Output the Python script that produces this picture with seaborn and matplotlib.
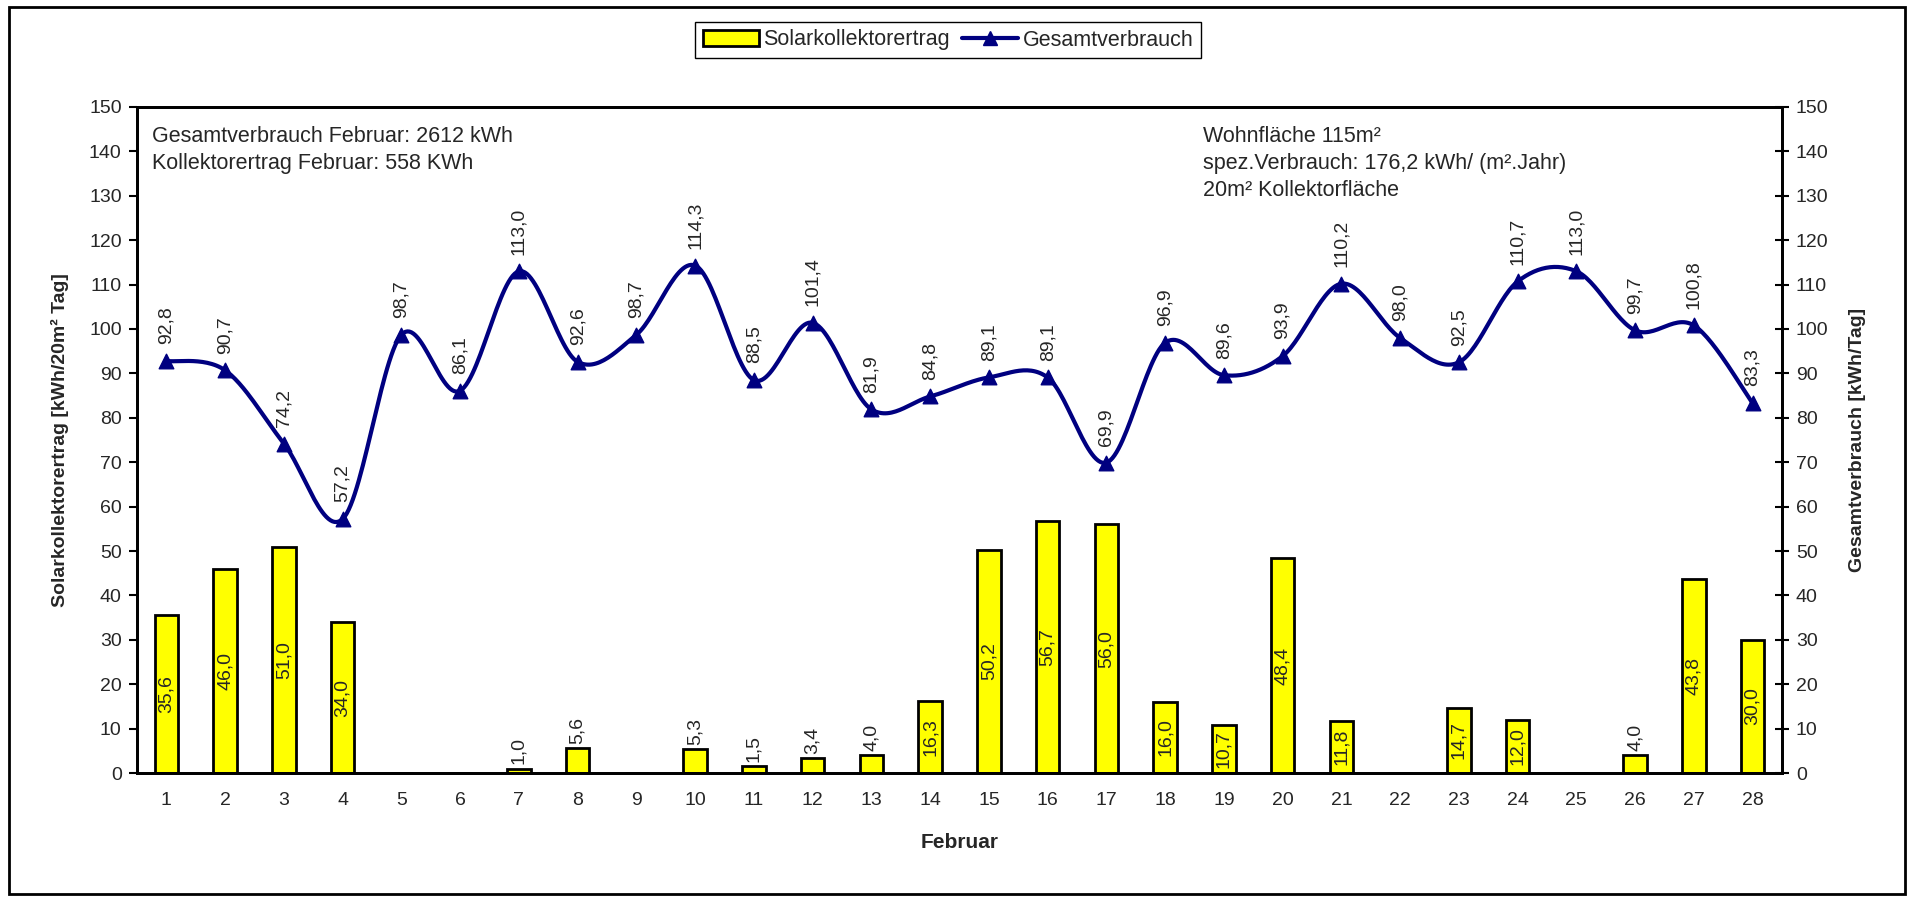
import numpy as np
import pandas as pd
import matplotlib
matplotlib.use("Agg")
import matplotlib.pyplot as plt
import seaborn as sns
from matplotlib.lines import Line2D
from matplotlib.patches import Patch, Rectangle

# ---------------- data ----------------
days = [str(d) for d in range(1, 29)]
solar = [35.6, 46.0, 51.0, 34.0, 0.0, 0.0, 1.0, 5.6, 0.0, 5.3, 1.5, 3.4, 4.0, 16.3,
         50.2, 56.7, 56.0, 16.0, 10.7, 48.4, 11.8, 0.0, 14.7, 12.0, 0.0, 4.0, 43.8, 30.0]
verbrauch = [92.8, 90.7, 74.2, 57.2, 98.7, 86.1, 113.0, 92.6, 98.7, 114.3, 88.5, 101.4,
             81.9, 84.8, 89.1, 89.1, 69.9, 96.9, 89.6, 93.9, 110.2, 98.0, 92.5, 110.7,
             113.0, 99.7, 100.8, 83.3]
yticks = list(range(0, 151, 10))
series_names = ["Solarkollektorertrag", "Gesamtverbrauch"]
note_left = ["Gesamtverbrauch Februar: 2612 kWh", "Kollektorertrag Februar: 558 KWh"]
note_right = ["Wohnfläche 115m²", "spez.Verbrauch: 176,2 kWh/ (m².Jahr)", "20m² Kollektorfläche"]
xlabel = "Februar"
ylabel_left = "Solarkollektorertrag [kWh/20m² Tag]"
ylabel_right = "Gesamtverbrauch [kWh/Tag]"

YELLOW = "#FFFF00"
NAVY = "#000080"

sns.set_style("white")
plt.rcParams["font.family"] = ["Liberation Sans", "DejaVu Sans"]

W, H = 1912, 899
fig = plt.figure(figsize=(W / 100, H / 100), dpi=100)
L, R, T, B = 137, 1782, 107, 773
ax = fig.add_axes([L / W, 1 - B / H, (R - L) / W, (B - T) / H])

df = pd.DataFrame({"Tag": days, "Solar": solar})
sns.barplot(data=df, x="Tag", y="Solar", color=YELLOW, saturation=1, edgecolor="black",
            linewidth=2, width=0.4, ax=ax, zorder=2)
ax.set_xlim(-0.5, len(days) - 0.5)
ax.set_ylim(0, 150)
ax.set_yticks(yticks)
ax.set_xlabel("")
ax.set_ylabel("")
ax.set_xticks(range(len(days)))
ax.set_xticklabels(days)
ax.set_xticks(np.arange(-0.5, len(days), 1), minor=True)
ax.tick_params(axis="x", which="major", length=0, labelsize=14, pad=14)
ax.tick_params(axis="x", which="minor", length=7, width=1.5, direction="out", color="black")
ax.tick_params(axis="y", which="major", length=6, width=1.5, direction="out",
               labelsize=14, pad=5, left=True, color="black")
for s in ax.spines.values():
    s.set_color("black")
    s.set_linewidth(2)

# bar labels
for i, v in enumerate(solar):
    if v == 0:
        continue
    lbl = f"{v:.1f}".replace(".", ",")
    if v >= 10:
        ax.text(i, v / 2, lbl, rotation=90, ha="center", va="center", fontsize=14, zorder=4)
    else:
        ax.annotate(lbl, (i, v), xytext=(0, 3), textcoords="offset points", rotation=90,
                    ha="center", va="bottom", fontsize=14, zorder=1)

# line on secondary axis
ax2 = ax.twinx()
ax2.set_ylim(0, 150)
ax2.set_yticks(yticks)
ax2.tick_params(axis="y", length=10, width=1.5, direction="inout", labelsize=14, pad=5,
                color="black")
for s in ax2.spines.values():
    s.set_color("black")
    s.set_linewidth(2)


def smooth(xp, yp, n=30):
    pts = np.column_stack([xp, yp]).astype(float)
    out = []
    for i in range(len(pts) - 1):
        p0 = pts[i - 1] if i > 0 else pts[i]
        p1 = pts[i]
        p2 = pts[i + 1]
        p3 = pts[i + 2] if i + 2 < len(pts) else pts[i + 1]
        c1 = p1 + (p2 - p0) / 6
        c2 = p2 - (p3 - p1) / 6
        t = np.linspace(0, 1, n)[:, None]
        seg = (1 - t) ** 3 * p1 + 3 * (1 - t) ** 2 * t * c1 + 3 * (1 - t) * t ** 2 * c2 + t ** 3 * p2
        out.append(seg if i == 0 else seg[1:])
    return np.vstack(out)


xpos = np.arange(len(days))
curve = smooth(xpos, verbrauch)
ax2.plot(curve[:, 0], curve[:, 1], color=NAVY, lw=3, solid_capstyle="round", zorder=3)
sns.scatterplot(x=xpos, y=verbrauch, marker="^", s=110, color=NAVY, edgecolor=NAVY,
                linewidth=1, ax=ax2, zorder=4, legend=False)
ax2.set_ylabel("")
for i, v in enumerate(verbrauch):
    lbl = f"{v:.1f}".replace(".", ",")
    ax2.annotate(lbl, (i, v), xytext=(0, 12), textcoords="offset points", rotation=90,
                 ha="center", va="bottom", fontsize=14)

# legend
handles = [Patch(facecolor=YELLOW, edgecolor="black", linewidth=2),
           Line2D([], [], color=NAVY, lw=3, marker="^", markersize=10)]
leg = fig.legend(handles, series_names, loc="center", bbox_to_anchor=(948 / W, 1 - 40 / H),
                 ncol=2, frameon=True, fancybox=False, edgecolor="black", fontsize=15.5,
                 handlelength=2.6, handletextpad=0.2, columnspacing=0.6, borderpad=0.35,
                 framealpha=1)
leg.get_frame().set_linewidth(1)

# notes
for k, line in enumerate(note_left):
    fig.text(152 / W, 1 - (136 + 27 * k) / H, line, fontsize=15.5, va="center", ha="left")
for k, line in enumerate(note_right):
    fig.text(1203 / W, 1 - (136 + 27 * k) / H, line, fontsize=15.5, va="center", ha="left")

# axis titles
fig.text((L + R) / 2 / W, 1 - 842 / H, xlabel, fontsize=15, fontweight="bold",
         ha="center", va="center")
fig.text(60 / W, 1 - 440 / H, ylabel_left, fontsize=14, fontweight="bold", rotation=90,
         ha="center", va="center")
fig.text(1857 / W, 1 - 440 / H, ylabel_right, fontsize=14, fontweight="bold", rotation=90,
         ha="center", va="center")

# outer border
fig.add_artist(Rectangle((9 / W, 1 - 894 / H), (1905 - 9) / W, (894 - 7) / H,
                         transform=fig.transFigure, fill=False, lw=2, edgecolor="black"))

fig.savefig("out.png", dpi=100)
